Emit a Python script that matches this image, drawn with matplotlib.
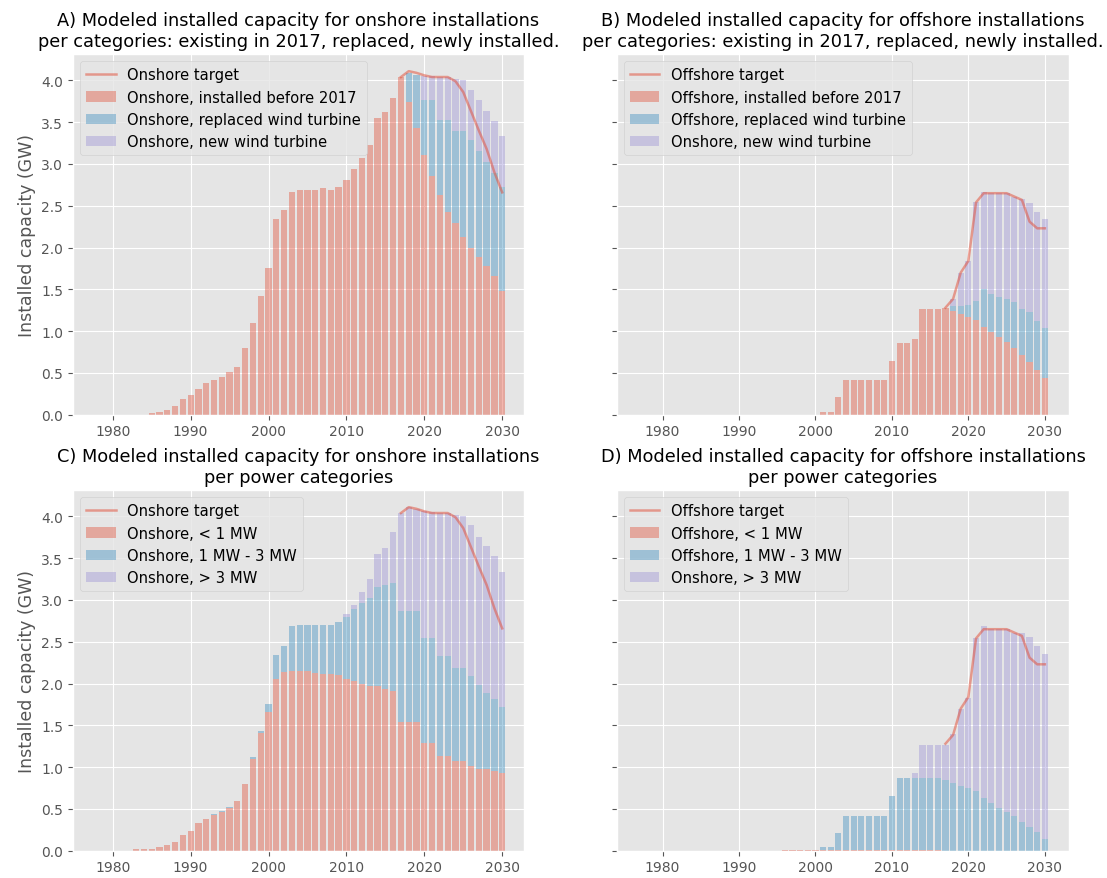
import matplotlib
matplotlib.use("Agg")
import matplotlib.pyplot as plt
import numpy as np

plt.style.use("ggplot")

# ---------------- data ----------------
on_years = list(range(1983, 2031))
off_years = list(range(1996, 2031))
target_years = list(range(2017, 2031))

# Panel A: onshore by vintage
on_before2017 = [0, 0, 0.02, 0.03, 0.06, 0.10, 0.19, 0.24, 0.31, 0.38, 0.41, 0.45, 0.51, 0.57,
                 0.80, 1.10, 1.42, 1.75, 2.34, 2.45, 2.67, 2.69, 2.69, 2.69, 2.71, 2.69, 2.73,
                 2.81, 2.94, 3.07, 3.23, 3.55, 3.62, 3.79, 4.04, 3.74, 3.43, 3.11, 2.85, 2.63,
                 2.43, 2.29, 2.13, 2.00, 1.89, 1.78, 1.66, 1.48]
on_replaced = [0] * 35 + [0.35, 0.64, 0.65, 0.91, 0.90, 1.10, 1.11, 1.27, 1.29, 1.26, 1.24,
                          1.23, 1.25]
on_new = [0] * 37 + [0.29, 0.29, 0.51, 0.51, 0.62, 0.60, 0.59, 0.61, 0.61, 0.62, 0.61]
on_target = [4.04, 4.11, 4.09, 4.06, 4.04, 4.04, 4.04, 3.99, 3.86, 3.63, 3.40, 3.18, 2.90, 2.66]

# Panel C: onshore by power class
on_lt1 = [0.02, 0.02, 0.02, 0.05, 0.07, 0.11, 0.19, 0.24, 0.33, 0.38, 0.43, 0.46, 0.51, 0.59,
          0.80, 1.10, 1.41, 1.66, 2.05, 2.14, 2.15, 2.15, 2.15, 2.13, 2.12, 2.12, 2.10, 2.06,
          2.03, 1.99, 1.97, 1.97, 1.94, 1.91, 1.54, 1.54, 1.54, 1.29, 1.29, 1.13, 1.13, 1.07,
          1.07, 1.01, 0.98, 0.975, 0.955, 0.93]
on_1to3 = [0, 0, 0, 0, 0, 0, 0, 0, 0, 0, 0.005, 0.01, 0.01, 0, 0, 0.02, 0.02, 0.09, 0.29, 0.31,
           0.54, 0.55, 0.55, 0.57, 0.58, 0.58, 0.64, 0.74, 0.86, 0.97, 1.05, 1.18, 1.24, 1.29,
           1.33, 1.33, 1.33, 1.25, 1.25, 1.20, 1.20, 1.12, 1.12, 1.08, 1.00, 0.915, 0.865, 0.79]
on_gt3 = [0] * 27 + [0.03, 0.05, 0.14, 0.23, 0.40, 0.44, 0.61, 1.17, 1.24, 1.22, 1.52, 1.51,
                     1.71, 1.71, 1.83, 1.82, 1.81, 1.77, 1.75, 1.71, 1.62]

# Panel B: offshore by vintage
off_before2017 = [0, 0, 0, 0, 0, 0.03, 0.03, 0.21, 0.42, 0.42, 0.42, 0.42, 0.42, 0.42, 0.645,
                  0.856, 0.856, 0.91, 1.26, 1.26, 1.26, 1.28, 1.24, 1.20, 1.17, 1.13, 1.05,
                  0.995, 0.93, 0.87, 0.80, 0.72, 0.63, 0.54, 0.44]
off_replaced = [0] * 22 + [0.06, 0.10, 0.14, 0.235, 0.45, 0.455, 0.48, 0.515, 0.545, 0.54,
                           0.60, 0.58, 0.595]
off_new = [0] * 22 + [0.085, 0.40, 0.53, 1.175, 1.17, 1.20, 1.24, 1.265, 1.265, 1.32, 1.30,
                      1.31, 1.305]
off_target = [1.28, 1.385, 1.70, 1.84, 2.54, 2.65, 2.65, 2.65, 2.65, 2.61, 2.57, 2.31, 2.23, 2.23]

# Panel D: offshore by power class
off_lt1 = [0.01] * 21 + [0] * 14
off_1to3 = [0, 0, 0, 0, 0, 0.04, 0.04, 0.20, 0.41, 0.41, 0.41, 0.41, 0.41, 0.41, 0.65, 0.86,
            0.86, 0.86, 0.86, 0.86, 0.86, 0.84, 0.81, 0.78, 0.75, 0.72, 0.63, 0.57, 0.505,
            0.465, 0.41, 0.34, 0.28, 0.22, 0.14]
off_gt3 = [0] * 17 + [0.06, 0.40, 0.40, 0.40, 0.43, 0.59, 0.92, 1.08, 1.83, 2.06, 2.08, 2.145,
                      2.185, 2.20, 2.26, 2.275, 2.23, 2.21]

# ---------------- plot ----------------
C_RED, C_BLUE, C_PURPLE = "#E24A33", "#348ABD", "#988ED5"
ALPHA = 0.4

W, H = 1107, 879
fig = plt.figure(figsize=(W / 100, H / 100), dpi=100)


def add_ax(l, r, t, b, sharey=None):
    return fig.add_axes([l / W, 1 - b / H, (r - l) / W, (b - t) / H], sharey=sharey)


axA = add_ax(73, 524, 55, 415.7)
axB = add_ax(616.7, 1069.3, 55, 415.7, sharey=axA)
axC = add_ax(73, 524, 491, 851.7)
axD = add_ax(616.7, 1069.3, 491, 851.7, sharey=axC)


def stacked(ax, years, s1, s2, s3, labels, tyears, target, tlabel):
    s1 = np.array(s1); s2 = np.array(s2); s3 = np.array(s3)
    line, = ax.plot(tyears, target, color=C_RED, alpha=0.5, lw=1.8, label=tlabel)
    b1 = ax.bar(years, s1, width=0.8, color=C_RED, alpha=ALPHA, label=labels[0])
    b2 = ax.bar(years, s2, width=0.8, bottom=s1, color=C_BLUE, alpha=ALPHA, label=labels[1])
    b3 = ax.bar(years, s3, width=0.8, bottom=s1 + s2, color=C_PURPLE, alpha=ALPHA,
                label=labels[2])
    ax.legend(handles=[line, b1, b2, b3], loc="upper left", fontsize=10.6)
    ax.set_xticks([1980, 1990, 2000, 2010, 2020, 2030])
    ax.tick_params(labelsize=10)


stacked(axA, on_years, on_before2017, on_replaced, on_new,
        ["Onshore, installed before 2017", "Onshore, replaced wind turbine",
         "Onshore, new wind turbine"], target_years, on_target, "Onshore target")
stacked(axB, off_years, off_before2017, off_replaced, off_new,
        ["Offshore, installed before 2017", "Offshore, replaced wind turbine",
         "Onshore, new wind turbine"], target_years, off_target, "Offshore target")
stacked(axC, on_years, on_lt1, on_1to3, on_gt3,
        ["Onshore, < 1 MW", "Onshore, 1 MW - 3 MW", "Onshore, > 3 MW"],
        target_years, on_target, "Onshore target")
stacked(axD, off_years, off_lt1, off_1to3, off_gt3,
        ["Offshore, < 1 MW", "Offshore, 1 MW - 3 MW", "Onshore, > 3 MW"],
        target_years, off_target, "Offshore target")

for ax in (axA, axC):
    ax.set_xlim(1974.9, 2032.8)
    ax.set_ylabel("Installed capacity (GW)", fontsize=12.5)
for ax in (axB, axD):
    ax.set_xlim(1974.0, 2033.2)
    plt.setp(ax.get_yticklabels(), visible=False)

TFS = 12.75
axA.set_title("A) Modeled installed capacity for onshore installations\n"
              "per categories: existing in 2017, replaced, newly installed.", fontsize=TFS)
axB.set_title("B) Modeled installed capacity for offshore installations\n"
              "per categories: existing in 2017, replaced, newly installed.", fontsize=TFS)
axC.set_title("C) Modeled installed capacity for onshore installations\n"
              "per power categories", fontsize=TFS)
axD.set_title("D) Modeled installed capacity for offshore installations\n"
              "per power categories", fontsize=TFS)

fig.savefig("out.png", dpi=100)
